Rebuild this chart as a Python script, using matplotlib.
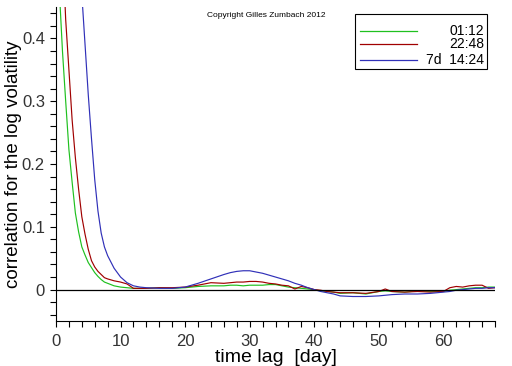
import matplotlib
matplotlib.use("Agg")
import matplotlib.pyplot as plt
from matplotlib.ticker import MultipleLocator
from matplotlib.patches import Rectangle

plt.rcParams['font.family'] = ['Liberation Sans', 'DejaVu Sans']

# lag in days, correlation of the log volatility for three time horizons
lag = [0, 0.5, 1, 1.5, 2, 2.5, 3, 3.5, 4, 4.5, 5, 5.5, 6, 6.5, 7, 7.5, 8,
       9, 10, 11, 12, 13, 14, 16, 18, 20, 22, 24, 26,
       27, 28, 29, 30, 31, 32, 33, 34, 35, 36, 37, 38, 39, 40, 41, 42, 43, 44,
       46, 48, 50, 51, 52, 54, 56, 58, 60,
       61, 62, 63, 64, 65, 66, 67, 68]

corr_0112 = [0.75, 0.48, 0.38, 0.30, 0.223, 0.171, 0.122, 0.092, 0.068, 0.055, 0.043, 0.035, 0.027, 0.021, 0.016, 0.012, 0.010,
             0.006, 0.004, 0.003, 0.002, 0.002, 0.002, 0.003, 0.002, 0.003, 0.005, 0.006, 0.006,
             0.007, 0.007, 0.006, 0.007, 0.007, 0.007, 0.008, 0.008, 0.006, 0.004, 0.003, 0.002, 0.001, 0.0, -0.002, -0.003, -0.004, -0.006,
             -0.005, -0.007, -0.003, -0.002, -0.003, -0.004, -0.002, -0.003, -0.003,
             -0.001, 0.0, 0.001, 0.002, 0.003, 0.003, 0.004, 0.004]

corr_2248 = [1.0, 0.75, 0.55, 0.43, 0.35, 0.27, 0.21, 0.16, 0.116, 0.088, 0.064, 0.046, 0.036, 0.029, 0.024, 0.019, 0.017,
             0.014, 0.012, 0.009, 0.002, 0.002, 0.002, 0.003, 0.003, 0.004, 0.007, 0.011, 0.010,
             0.011, 0.012, 0.012, 0.013, 0.013, 0.012, 0.010, 0.009, 0.007, 0.006, 0.001, 0.005, 0.003, 0.0, -0.001, -0.003, -0.004, -0.005,
             -0.005, -0.006, -0.003, 0.001, -0.003, -0.004, -0.003, -0.004, -0.003,
             0.003, 0.005, 0.004, 0.006, 0.007, 0.007, 0.002, 0.003]

corr_7d = [1.5, 1.35, 1.2, 1.07, 0.95, 0.82, 0.7, 0.58, 0.47, 0.39, 0.31, 0.24, 0.175, 0.125, 0.09, 0.068, 0.054,
           0.034, 0.020, 0.011, 0.006, 0.004, 0.003, 0.002, 0.002, 0.004, 0.010, 0.017, 0.024,
           0.027, 0.029, 0.030, 0.030, 0.028, 0.026, 0.023, 0.020, 0.017, 0.014, 0.010, 0.007, 0.003, 0.0, -0.003, -0.005, -0.007, -0.010,
           -0.011, -0.011, -0.010, -0.009, -0.008, -0.007, -0.007, -0.006, -0.004,
           -0.003, -0.001, 0.0, 0.001, 0.002, 0.002, 0.003, 0.003]

labels = ['01:12', '22:48', '7d  14:24']
colors = ['#1fc01f', '#a00000', '#3030b8']
series = [corr_0112, corr_2248, corr_7d]

fig = plt.figure(figsize=(5.12, 3.66), dpi=100)
ax = fig.add_axes([56/512, 1-321/366, 439/512, 314/366])

for y, c in zip(series, colors):
    ax.plot(lag, y, color=c, lw=0.85)
ax.axhline(0, color='black', lw=0.9)

ax.set_xlim(0, 68)
ax.set_ylim(-0.05, 0.45)
ax.xaxis.set_major_locator(MultipleLocator(10))
ax.xaxis.set_minor_locator(MultipleLocator(2))
ax.yaxis.set_minor_locator(MultipleLocator(0.02))
ax.set_yticks([0, 0.1, 0.2, 0.3, 0.4])
ax.set_yticklabels(['0', '0.1', '0.2', '0.3', '0.4'])
ax.tick_params(which='both', direction='out', length=4, width=0.8, labelsize=12,
               labelcolor='#333333')
ax.tick_params(axis='x', pad=5)
ax.tick_params(axis='y', pad=4)
ax.spines['top'].set_visible(False)
ax.spines['right'].set_visible(False)

ax.set_xlabel('time lag  [day]', fontsize=14)
ax.xaxis.set_label_coords(0.5, -0.088)
ax.set_ylabel('correlation for the log volatility', fontsize=13.5)
ax.yaxis.set_label_coords(-0.078, 0.5)

# legend box drawn by hand, labels right aligned
ax.add_patch(Rectangle((0.681, 0.803), 0.301, 0.175, transform=ax.transAxes,
                       facecolor='white', edgecolor='black', lw=0.8, zorder=5))
rows = [0.924, 0.882, 0.831]
for lab, c, yy in zip(labels, colors, rows):
    ax.plot([0.692, 0.822], [yy, yy], color=c, lw=0.9, transform=ax.transAxes, zorder=6)
    ax.text(0.975, yy, lab, transform=ax.transAxes, ha='right', va='center',
            fontsize=10, zorder=6)

fig.text(0.52, 0.957, 'Copyright Gilles Zumbach 2012', ha='center', va='center', fontsize=6)

fig.savefig('out.png', dpi=100)
